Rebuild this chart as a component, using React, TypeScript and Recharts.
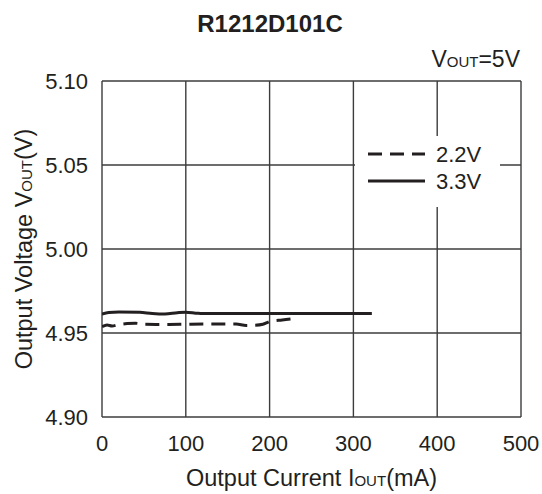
import React from 'react';
import {
  LineChart,
  Line,
  XAxis,
  YAxis,
  CartesianGrid,
  Legend,
  Label,
} from 'recharts';

// Output current (mA) and output voltage (V) per input voltage
const current22 = [0, 6, 12, 20, 30, 40, 50, 65, 80, 100, 130, 160, 172, 182, 192, 200, 215, 228];
const vout22 = [4.9538, 4.9548, 4.9542, 4.9550, 4.9556, 4.9558, 4.9552, 4.9551, 4.9551, 4.9552, 4.9553, 4.9553, 4.9545, 4.9546, 4.9552, 4.9568, 4.9578, 4.9585];

const current33 = [0, 8, 20, 45, 60, 75, 90, 100, 115, 140, 200, 260, 322];
const vout33 = [4.9612, 4.9622, 4.9625, 4.9623, 4.9616, 4.9613, 4.9621, 4.9624, 4.9617, 4.9616, 4.9616, 4.9616, 4.9616];

const xTicks = [0, 100, 200, 300, 400, 500];
const yTicks = [4.9, 4.95, 5.0, 5.05, 5.1];

const series = [
  { name: '2.2V', x: current22, y: vout22, dash: '14 8' },
  { name: '3.3V', x: current33, y: vout33, dash: undefined },
];

const FONT = '"Liberation Sans", Arial, sans-serif';
const INK = '#231f20';
const GRID = '#3c3c3c';

const toPoints = (xs: number[], ys: number[]) => xs.map((x, i) => ({ x, v: ys[i] }));

const LegendBox = () => (
  <svg width={145} height={71}>
    {series.map((s, i) => (
      <g key={s.name}>
        <line
          x1={13}
          x2={70}
          y1={18 + i * 27}
          y2={18 + i * 27}
          stroke={INK}
          strokeWidth={3}
          strokeDasharray={s.dash}
        />
        <text x={81} y={26 + i * 27} fontSize={22} fontFamily={FONT} fill={INK}>
          {s.name}
        </text>
      </g>
    ))}
  </svg>
);

const XTitle = ({ viewBox }: any) => {
  const cx = viewBox.x + viewBox.width / 2;
  return (
    <text x={cx} y={486} textAnchor="middle" fontSize={23.5} fontFamily={FONT} fill={INK}>
      Output Current I<tspan fontSize={15}>OUT</tspan>(mA)
    </text>
  );
};

const YTitle = ({ viewBox }: any) => {
  const cy = viewBox.y + viewBox.height / 2;
  return (
    <text
      x={32}
      y={cy}
      transform={`rotate(-90 32 ${cy})`}
      textAnchor="middle"
      fontSize={23.5}
      fontFamily={FONT}
      fill={INK}
    >
      Output Voltage V<tspan fontSize={15}>OUT</tspan>(V)
    </text>
  );
};

export default function App() {
  return (
    <div style={{ position: 'absolute', left: 0, top: 0, width: 542, height: 494, background: '#fff' }}>
      <div
        style={{
          position: 'absolute',
          left: 0,
          width: 540,
          top: 10,
          textAlign: 'center',
          fontFamily: FONT,
          fontWeight: 'bold',
          fontSize: 24,
          color: INK,
        }}
      >
        R1212D101C
      </div>
      <div
        style={{
          position: 'absolute',
          right: 22,
          top: 46,
          fontFamily: FONT,
          fontSize: 23,
          color: INK,
        }}
      >
        V<span style={{ fontSize: 15 }}>OUT</span>=5V
      </div>
      <LineChart
        width={542}
        height={494}
        margin={{ top: 81, right: 21, bottom: 47, left: 42 }}
        style={{ fontFamily: FONT }}
      >
        <CartesianGrid stroke={GRID} strokeWidth={1.4} strokeDasharray="" />
        <XAxis
          type="number"
          dataKey="x"
          domain={[0, 500]}
          ticks={xTicks}
          allowDataOverflow
          axisLine={false}
          tickLine={false}
          tickSize={0}
          tickMargin={18}
          height={30}
          tick={{ fontSize: 22, fill: INK }}
        >
          <Label content={<XTitle />} />
        </XAxis>
        <YAxis
          type="number"
          domain={[4.9, 5.1]}
          ticks={yTicks}
          allowDataOverflow
          axisLine={false}
          tickLine={false}
          tickSize={0}
          tickMargin={14}
          width={60}
          tickFormatter={(v: number) => v.toFixed(2)}
          tick={{ fontSize: 22, fill: INK }}
        >
          <Label content={<YTitle />} />
        </YAxis>
        <Legend
          layout="vertical"
          align="center"
          verticalAlign="middle"
          content={<LegendBox />}
          wrapperStyle={{ left: 355, top: 136, width: 145, height: 71, background: '#fff' }}
        />
        {series.map((s) => (
          <Line
            key={s.name}
            name={s.name}
            data={toPoints(s.x, s.y)}
            dataKey="v"
            type="monotone"
            stroke={INK}
            strokeWidth={3}
            strokeDasharray={s.dash}
            dot={false}
            activeDot={false}
            isAnimationActive={false}
          />
        ))}
      </LineChart>
    </div>
  );
}
